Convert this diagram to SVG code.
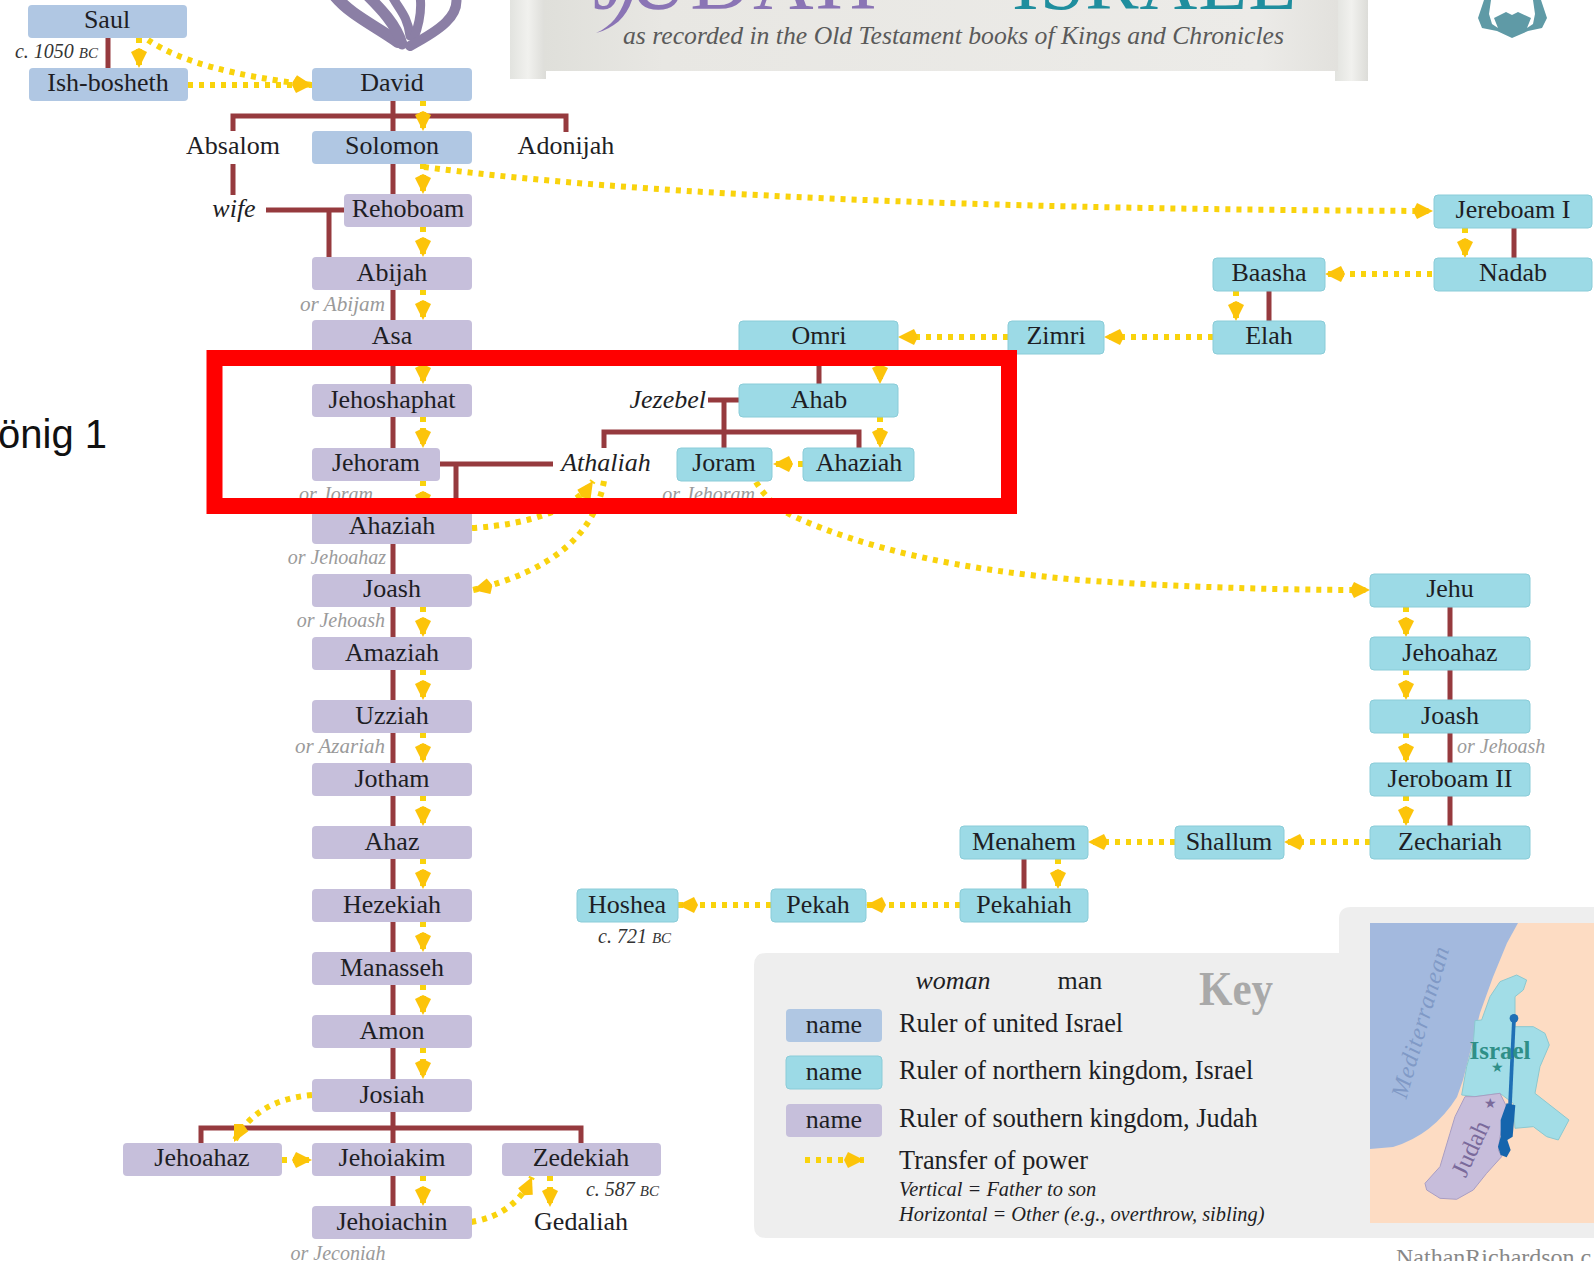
<svg xmlns="http://www.w3.org/2000/svg" width="1594" height="1261" viewBox="0 0 1594 1261">
<style>
text{font-family:"Liberation Serif","Times New Roman",serif;fill:#1e1e24;font-size:26px}
.c{text-anchor:middle}
.e{text-anchor:end}
.i{font-style:italic}
.g{font-style:italic;fill:#9a9a9a;font-size:20px}
.d{font-style:italic;font-size:20px;fill:#333}
.sc{font-size:15px}
.u{fill:#b0c7e3}.n{fill:#9cdae6;stroke:#8accd8;stroke-width:1}.s{fill:#c6bfdb}
.rel{stroke:#963a3e;stroke-width:5;fill:none}
.x{stroke:#f9d30c;stroke-width:6;stroke-dasharray:5 6;fill:none;marker-end:url(#ah)}
.k{font-size:26.300px}
</style>
<defs>
<marker id="ah" markerUnits="userSpaceOnUse" markerWidth="22" markerHeight="20" refX="20" refY="9" orient="auto"><path d="M0 9L4 1L20 9L4 17Z" fill="#fcc40a"/></marker>
<linearGradient id="roll" x1="0" x2="1" y1="0" y2="0"><stop offset="0" stop-color="#e2e3df"/><stop offset=".5" stop-color="#f1f1ee"/><stop offset="1" stop-color="#dcdcd8"/></linearGradient>
<linearGradient id="scroll" x1="0" x2="1" y1="0" y2="0"><stop offset="0" stop-color="#dfdfda"/><stop offset=".15" stop-color="#e8e7e3"/><stop offset=".9" stop-color="#ecebe8"/><stop offset="1" stop-color="#e2e1dd"/></linearGradient>
</defs>
<rect width="1594" height="1261" fill="#fff"/>

<g id="banner">
<rect x="510" y="0" width="36" height="79" fill="url(#roll)"/>
<rect x="1335" y="0" width="33" height="81" fill="url(#roll)"/>
<rect x="544" y="0" width="794" height="71" fill="url(#scroll)"/>
<text x="593" y="9" style="font-size:84px;fill:#8a74b5;letter-spacing:2px">JUDAH</text>
<text x="1012" y="9" style="font-size:80px;fill:#1f8e9e;letter-spacing:1px">ISRAEL</text>
<path d="M596 33C612 26 620 14 625 0L632 0C626 18 614 28 596 33Z" fill="#8a74b5"/>
<text x="623" y="44" class="i" textLength="661" lengthAdjust="spacingAndGlyphs" style="fill:#5a5a5a;font-size:25px">as recorded in the Old Testament books of Kings and Chronicles</text>
</g>
<g id="icon-left" fill="none" stroke="#8b7fa5" stroke-linecap="round">
<path d="M335 -4C350 14 372 24 398 42" stroke-width="12"/>
<path d="M368 -4C380 8 396 24 402 44" stroke-width="11"/>
<path d="M392 -4C398 8 408 16 410 36" stroke-width="9"/>
<path d="M420 -4C422 10 420 22 414 38" stroke-width="9"/>
<path d="M456 -4C460 16 440 30 410 46" stroke-width="10"/>
</g>
<g id="icon-right">
<path d="M1484 0L1478 18L1482 28L1497 31L1512 38L1528 31L1542 28L1547 18L1541 0Z" fill="#5f9aa6"/>
<path d="M1491 0L1489 14L1492 24L1498 28L1494 18L1506 12L1512 15L1518 12L1531 18L1527 28L1533 24L1535 14L1533 0Z" fill="#fff"/>
</g>
<text x="107" y="448" class="e" style="font-family:'Liberation Sans',sans-serif;font-size:40px;fill:#111">önig 1</text>

<g id="connectors">
<g class="relations">
<path class="rel" d="M108 38V68M393 101V131M233 131V116H566V132M233 164V195M266 210H344M329 210V257M393 164V194M393 290V321M393 352V384M393 417V448M440 464H553M456 464V511M393 544V574M393 607V637M393 670V700M393 733V763M393 796V826M393 859V889M393 922V952M393 985V1015M393 1048V1079M393 1112V1143M201 1143V1128H581V1143M393 1176V1206"/>
<path class="rel" d="M1514 228V258M1269 291V321M819 352V384M708 400H739M724 400V448M604 448V432H859V448M1450 607V637M1450 670V700M1450 733V763M1450 796V826M1024 859V889"/>
</g>
<g class="transfers">
<path class="x" d="M139 38V68"/>
<path class="x" d="M148 40Q195 72 312 85"/>
<path class="x" d="M188 85H312"/>
<path class="x" d="M423 101V131"/>
<path class="x" d="M423 164V194"/>
<path class="x" d="M423 227V257"/>
<path class="x" d="M423 290V320"/>
<path class="x" d="M423 354V384"/>
<path class="x" d="M423 417V448"/>
<path class="x" d="M423 481V511"/>
<path class="x" d="M423 607V637"/>
<path class="x" d="M423 670V700"/>
<path class="x" d="M423 733V763"/>
<path class="x" d="M423 796V826"/>
<path class="x" d="M423 859V889"/>
<path class="x" d="M423 922V952"/>
<path class="x" d="M423 985V1015"/>
<path class="x" d="M423 1048V1079"/>
<path class="x" d="M423 1176V1206"/>
<path class="x" d="M424 167C600 190 900 209 1433 211"/>
<path class="x" d="M1465 228V258"/>
<path class="x" d="M1432 274H1325"/>
<path class="x" d="M1236 291V321"/>
<path class="x" d="M1213 337H1104"/>
<path class="x" d="M1008 337H898"/>
<path class="x" d="M880 352V384"/>
<path class="x" d="M880 417V448"/>
<path class="x" d="M803 464H773"/>
<path class="x" d="M472 528Q565 522 593 481"/>
<path class="x" d="M604 481Q590 562 473 590"/>
<path class="x" d="M756 482Q770 505 793 516Q900 565 1080 580Q1220 590 1370 590"/>
<path class="x" d="M1406 607V637"/>
<path class="x" d="M1406 670V700"/>
<path class="x" d="M1406 733V763"/>
<path class="x" d="M1406 796V826"/>
<path class="x" d="M1370 842H1284"/>
<path class="x" d="M1175 842H1088"/>
<path class="x" d="M1058 859V889"/>
<path class="x" d="M960 905H866"/>
<path class="x" d="M771 905H678"/>
<path class="x" d="M312 1095Q255 1100 234 1142"/>
<path class="x" d="M282 1160H312"/>
<path class="x" d="M471 1222Q515 1215 532 1177"/>
<path class="x" d="M550 1176V1207"/>
</g>
</g>

<g id="saul"><rect class="u" x="28" y="5" width="159" height="33" rx="4"/><text class="c" x="107" y="28">Saul</text></g>
<g id="ish-bosheth"><rect class="u" x="29" y="68" width="159" height="33" rx="4"/><text class="c" x="108" y="91">Ish-bosheth</text></g>
<g id="david"><rect class="u" x="312" y="68" width="160" height="33" rx="4"/><text class="c" x="392" y="91">David</text></g>
<g id="solomon"><rect class="u" x="312" y="131" width="160" height="33" rx="4"/><text class="c" x="392" y="154">Solomon</text></g>
<g id="absalom"><text class="c" x="233" y="154">Absalom</text></g>
<g id="adonijah"><text class="c" x="566" y="154">Adonijah</text></g>
<g id="wife"><text class="c i" x="234" y="217">wife</text></g>
<g id="rehoboam"><rect class="s" x="344" y="194" width="128" height="33" rx="4"/><text class="c" x="408" y="217">Rehoboam</text></g>
<g id="abijah"><rect class="s" x="312" y="257" width="160" height="33" rx="4"/><text class="c" x="392" y="281">Abijah</text></g>
<text class="g e" x="385" y="311" textLength="85" lengthAdjust="spacingAndGlyphs">or Abijam</text>
<g id="asa"><rect class="s" x="312" y="320" width="160" height="33" rx="4"/><text class="c" x="392" y="344">Asa</text></g>
<g id="jehoshaphat"><rect class="s" x="312" y="384" width="160" height="33" rx="4"/><text class="c" x="392" y="408">Jehoshaphat</text></g>
<g id="jehoram"><rect class="s" x="312" y="448" width="128" height="33" rx="4"/><text class="c" x="376" y="471">Jehoram</text></g>
<text class="g e" x="373" y="501">or Joram</text>
<g id="ahaziah-j"><rect class="s" x="312" y="511" width="160" height="33" rx="4"/><text class="c" x="392" y="534">Ahaziah</text></g>
<text class="g e" x="386" y="564">or Jehoahaz</text>
<g id="joash-j"><rect class="s" x="312" y="574" width="160" height="33" rx="4"/><text class="c" x="392" y="597">Joash</text></g>
<text class="g e" x="385" y="627">or Jehoash</text>
<g id="amaziah"><rect class="s" x="312" y="637" width="160" height="33" rx="4"/><text class="c" x="392" y="661">Amaziah</text></g>
<g id="uzziah"><rect class="s" x="312" y="700" width="160" height="33" rx="4"/><text class="c" x="392" y="724">Uzziah</text></g>
<text class="g e" x="385" y="753" style="font-size:21px">or Azariah</text>
<g id="jotham"><rect class="s" x="312" y="763" width="160" height="33" rx="4"/><text class="c" x="392" y="787">Jotham</text></g>
<g id="ahaz"><rect class="s" x="312" y="826" width="160" height="33" rx="4"/><text class="c" x="392" y="850">Ahaz</text></g>
<g id="hezekiah"><rect class="s" x="312" y="889" width="160" height="33" rx="4"/><text class="c" x="392" y="913">Hezekiah</text></g>
<g id="manasseh"><rect class="s" x="312" y="952" width="160" height="33" rx="4"/><text class="c" x="392" y="976">Manasseh</text></g>
<g id="amon"><rect class="s" x="312" y="1015" width="160" height="33" rx="4"/><text class="c" x="392" y="1039">Amon</text></g>
<g id="josiah"><rect class="s" x="312" y="1079" width="160" height="33" rx="4"/><text class="c" x="392" y="1103">Josiah</text></g>
<g id="jehoahaz-j"><rect class="s" x="123" y="1143" width="159" height="33" rx="4"/><text class="c" x="202" y="1166">Jehoahaz</text></g>
<g id="jehoiakim"><rect class="s" x="312" y="1143" width="160" height="33" rx="4"/><text class="c" x="392" y="1166">Jehoiakim</text></g>
<g id="zedekiah"><rect class="s" x="502" y="1143" width="159" height="33" rx="4"/><text class="c" x="581" y="1166">Zedekiah</text></g>
<g id="jehoiachin"><rect class="s" x="312" y="1206" width="160" height="33" rx="4"/><text class="c" x="392" y="1230">Jehoiachin</text></g>
<text class="g c" x="338" y="1260">or Jeconiah</text>
<g id="gedaliah"><text class="c" x="581" y="1230">Gedaliah</text></g>
<text class="d e" x="659" y="1196">c. 587 <tspan class="sc">BC</tspan></text>
<text class="d e" x="98" y="58">c. 1050 <tspan class="sc">BC</tspan></text>

<g id="jereboam"><rect class="n" x="1434" y="195" width="158" height="33" rx="4"/><text class="c" x="1513" y="218">Jereboam I</text></g>
<g id="nadab"><rect class="n" x="1434" y="258" width="158" height="33" rx="4"/><text class="c" x="1513" y="281">Nadab</text></g>
<g id="baasha"><rect class="n" x="1213" y="258" width="112" height="33" rx="4"/><text class="c" x="1269" y="281">Baasha</text></g>
<g id="elah"><rect class="n" x="1213" y="321" width="112" height="33" rx="4"/><text class="c" x="1269" y="344">Elah</text></g>
<g id="zimri"><rect class="n" x="1008" y="321" width="96" height="33" rx="4"/><text class="c" x="1056" y="344">Zimri</text></g>
<g id="omri"><rect class="n" x="739" y="321" width="159" height="33" rx="4"/><text class="c" x="819" y="344">Omri</text></g>
<g id="ahab"><rect class="n" x="739" y="384" width="159" height="33" rx="4"/><text class="c" x="819" y="408">Ahab</text></g>
<g id="jezebel"><text class="e i" x="706" y="408">Jezebel</text></g>
<g id="athaliah"><text class="c i" x="606" y="471">Athaliah</text></g>
<g id="joram"><rect class="n" x="677" y="448" width="95" height="33" rx="4"/><text class="c" x="724" y="471">Joram</text></g>
<g id="ahaziah-i"><rect class="n" x="803" y="448" width="111" height="33" rx="4"/><text class="c" x="859" y="471">Ahaziah</text></g>
<text class="g e" x="755" y="501">or Jehoram</text>
<g id="jehu"><rect class="n" x="1370" y="574" width="160" height="33" rx="4"/><text class="c" x="1450" y="597">Jehu</text></g>
<g id="jehoahaz-i"><rect class="n" x="1370" y="637" width="160" height="33" rx="4"/><text class="c" x="1450" y="661">Jehoahaz</text></g>
<g id="joash-i"><rect class="n" x="1370" y="700" width="160" height="33" rx="4"/><text class="c" x="1450" y="724">Joash</text></g>
<text class="g" x="1457" y="753">or Jehoash</text>
<g id="jeroboam-ii"><rect class="n" x="1370" y="763" width="160" height="33" rx="4"/><text class="c" x="1450" y="787">Jeroboam II</text></g>
<g id="zechariah"><rect class="n" x="1370" y="826" width="160" height="33" rx="4"/><text class="c" x="1450" y="850">Zechariah</text></g>
<g id="shallum"><rect class="n" x="1175" y="826" width="109" height="33" rx="4"/><text class="c" x="1229" y="850">Shallum</text></g>
<g id="menahem"><rect class="n" x="960" y="826" width="128" height="33" rx="4"/><text class="c" x="1024" y="850">Menahem</text></g>
<g id="pekahiah"><rect class="n" x="960" y="889" width="128" height="33" rx="4"/><text class="c" x="1024" y="913">Pekahiah</text></g>
<g id="pekah"><rect class="n" x="771" y="889" width="95" height="33" rx="4"/><text class="c" x="818" y="913">Pekah</text></g>
<g id="hoshea"><rect class="n" x="577" y="889" width="101" height="33" rx="4"/><text class="c" x="627" y="913">Hoshea</text></g>
<text class="d" x="598" y="943">c. 721 <tspan class="sc">BC</tspan></text>

<g id="key">
<path d="M1339 953V919Q1339 907 1351 907H1594V1238H766Q754 1238 754 1226V965Q754 953 766 953Z" fill="#eeeeee"/>
<text class="c i" x="953" y="989">woman</text>
<text class="c" x="1080" y="989">man</text>
<text x="1199" y="1005" textLength="74" lengthAdjust="spacingAndGlyphs" style="font-size:48px;fill:#a9a9a9;font-weight:bold">Key</text>
<rect class="u" x="786" y="1009" width="96" height="33" rx="4"/><text class="c" x="834" y="1033">name</text>
<rect class="n" x="786" y="1056" width="96" height="33" rx="4"/><text class="c" x="834" y="1080">name</text>
<rect class="s" x="786" y="1104" width="96" height="33" rx="4"/><text class="c" x="834" y="1128">name</text>
<text class="k" x="899" y="1032">Ruler of united Israel</text>
<text class="k" x="899" y="1079">Ruler of northern kingdom, Israel</text>
<text class="k" x="899" y="1127">Ruler of southern kingdom, Judah</text>
<path class="x" d="M805 1160H864"/>
<text class="k" x="899" y="1169">Transfer of power</text>
<text class="i" x="899" y="1196" style="font-size:20.400px">Vertical = Father to son</text>
<text class="i" x="899" y="1221" style="font-size:20.400px">Horizontal = Other (e.g., overthrow, sibling)</text>
</g>
<g id="map">
<rect x="1370" y="923" width="224" height="300" fill="#fddcc3"/>
<path d="M1370 923H1518L1507 943L1493 977L1480 1013L1463 1080L1457 1097Q1433 1135 1393 1147L1370 1149Z" fill="#a3b9de"/>
<g transform="translate(1360 910) scale(.3333)">
<path d="M345 332L365 330L390 260L420 215L470 195L500 210L490 240L465 260V350L520 350L555 370L568 405L540 470L525 550L627 630L595 690L560 680L520 650L465 655L460 580L420 550L345 560L305 555L320 470L340 400Z" fill="#a2dde7" stroke="#8cc8cf" stroke-width="3"/>
<path d="M315 560L345 560L420 550L440 590L420 680L415 720L425 740L380 790L340 840L290 868L240 865L200 840L195 820L240 770L270 670L285 620Z" fill="#c7bddb" stroke="#a99ec3" stroke-width="3"/>
<path d="M462 325L450 585" stroke="#1f6fb5" stroke-width="11" fill="none"/>
<circle cx="462" cy="325" r="13" fill="#1f6fb5"/>
<path d="M440 580L466 586L458 680L442 690L452 720L440 742L422 735L414 710L422 680L422 630Z" fill="#1565ad"/>
</g>
<text class="c i" transform="translate(1428 1024) rotate(-74)" style="font-size:24px;fill:#8099c6;letter-spacing:1px">Mediterranean</text>
<text class="c" x="1500" y="1059" style="font-size:25px;fill:#2f8f88;font-weight:bold">Israel</text>
<text class="c" x="1497" y="1072" style="font-size:14px;fill:#2f8f88">★</text>
<text class="c" transform="translate(1478 1152) rotate(-65)" style="font-size:25px;fill:#7a6a9b">Judah</text>
<text class="c" x="1490" y="1108" style="font-size:14px;fill:#7a6a9b">★</text>
</g>
<text x="1396" y="1265" style="font-size:24px;fill:#888">NathanRichardson.c</text>

<rect id="highlight" x="214.500" y="358" width="794.500" height="148" fill="none" stroke="#ff0000" stroke-width="16"/>
</svg>
